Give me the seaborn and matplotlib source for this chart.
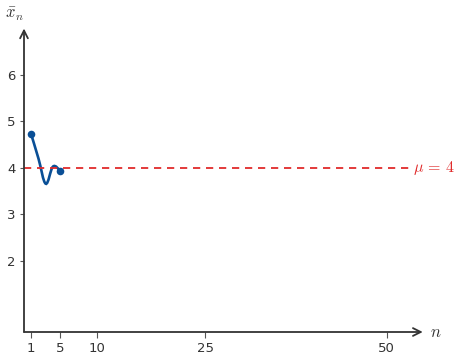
import numpy as np
import pandas as pd
import matplotlib
matplotlib.use("Agg")
import matplotlib.pyplot as plt
from matplotlib.path import Path
from matplotlib.patches import PathPatch
import seaborn as sns

# Running sample mean for the first few draws
n_vals = [1, 2, 3, 4, 5]
mean_vals = [4.72, 4.2, 3.66, 4.03, 3.94]
mu = 4
x_ticks = [1, 5, 10, 25, 50]
y_ticks = [2, 3, 4, 5, 6]

sns.set_theme(style="white")
plt.rcParams["font.family"] = ["DejaVu Sans"]
plt.rcParams["mathtext.fontset"] = "cm"

W, H = 459, 358
fig = plt.figure(figsize=(W / 100, H / 100), dpi=100)
x0, x1, y0, y1 = 0.0, 55.0, 0.47, 7.0
left_px, right_px, top_px, bot_px = 24, 422.75, 28.5, 332
ax = fig.add_axes([left_px / W, 1 - bot_px / H,
                   (right_px - left_px) / W, (bot_px - top_px) / H])
ax.set_xlim(x0, x1)
ax.set_ylim(y0, y1)
for s in ax.spines.values():
    s.set_visible(False)

axis_col = "#333333"
blue = "#0a4f96"
red = "#e02b2b"

# axes drawn as arrows
ax.annotate("", xy=(x1, y0), xytext=(x0, y0), xycoords="data",
            arrowprops=dict(arrowstyle="->", color=axis_col, lw=1.3,
                            mutation_scale=14, shrinkA=0, shrinkB=0),
            annotation_clip=False)
ax.annotate("", xy=(x0, y1), xytext=(x0, y0), xycoords="data",
            arrowprops=dict(arrowstyle="->", color=axis_col, lw=1.3,
                            mutation_scale=14, shrinkA=0, shrinkB=0),
            annotation_clip=False)

ax.set_xticks(x_ticks)
ax.set_yticks(y_ticks)
ax.tick_params(axis="both", which="both", length=4, width=0.8, color="#555555",
               labelsize=9.5, labelcolor="#333333", pad=3, direction="out",
               bottom=True, left=True)
ax.tick_params(axis="y", length=3)

# axis labels at the arrow tips
ax.text(x1 + 1.0, y0, r"$n$", fontsize=12, color=axis_col,
        ha="left", va="center", clip_on=False)
ax.text(x0 - 1.3, y1 + 0.12, r"$\bar{x}_n$", fontsize=12, color=axis_col,
        ha="center", va="bottom", clip_on=False)

# reference line at the true mean
ax.plot([0, 53.2], [mu, mu], color=red, lw=1.3, ls=(0, (4, 3.2)))
ax.text(53.7, mu, r"$\mu\,=\,4$", color=red, fontsize=11.5,
        ha="left", va="center", clip_on=False)

# smooth curve through the running means (cubic Bezier segments)
pts = np.column_stack([n_vals, mean_vals]).astype(float)
tension = 0.55 / 3 * 2
verts = [tuple(pts[0])]
codes = [Path.MOVETO]
for i in range(len(pts) - 1):
    p_prev = pts[i - 1] if i > 0 else pts[i]
    p_next = pts[i + 2] if i + 2 < len(pts) else pts[i + 1]
    c1 = pts[i] + (pts[i + 1] - p_prev) * tension / 2
    c2 = pts[i + 1] - (p_next - pts[i]) * tension / 2
    verts += [tuple(c1), tuple(c2), tuple(pts[i + 1])]
    codes += [Path.CURVE4] * 3
ax.add_patch(PathPatch(Path(verts, codes), facecolor="none",
                       edgecolor=blue, lw=1.9, capstyle="round"))

df = pd.DataFrame({"n": n_vals, "mean": mean_vals})
ends = df.iloc[[0, -1]]
sns.scatterplot(data=ends, x="n", y="mean", ax=ax, color=blue, s=30,
                edgecolor=blue, linewidth=0, zorder=5)
ax.set_xlabel("")
ax.set_ylabel("")

fig.savefig("out.png", dpi=100)
